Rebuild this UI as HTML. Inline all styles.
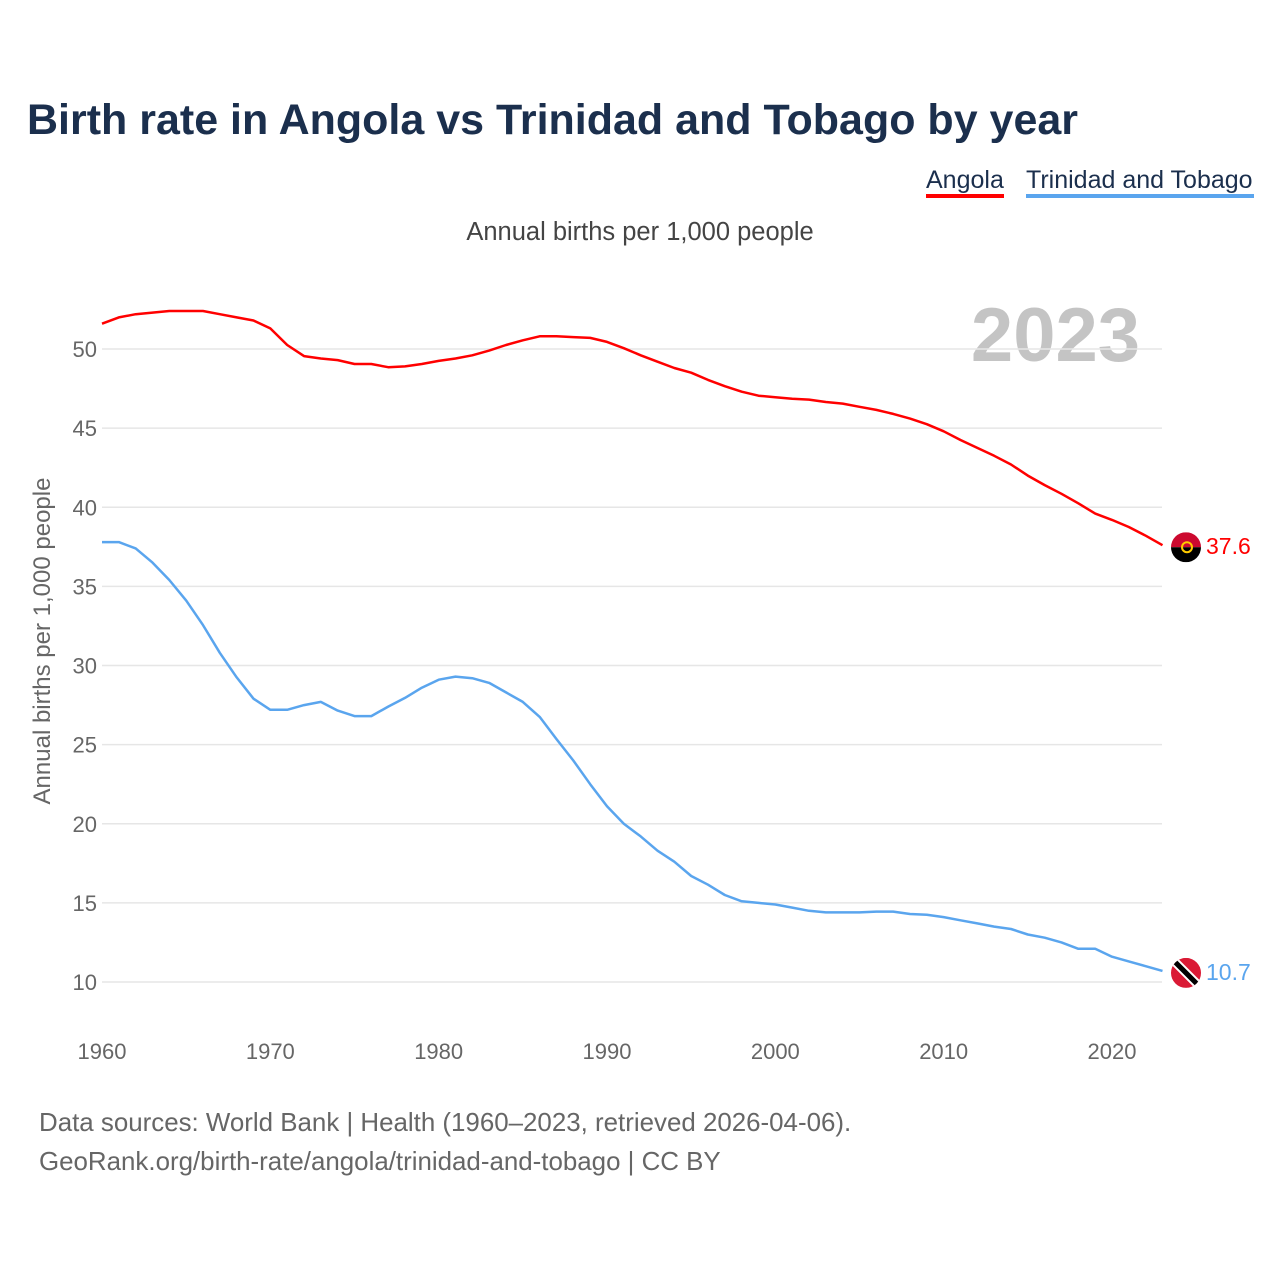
<!DOCTYPE html>
<html><head><meta charset="utf-8"><style>
body{margin:0;background:#fff;font-family:"Liberation Sans",sans-serif;}
#wrap{position:relative;width:1280px;height:1280px;overflow:hidden;}
</style></head><body>
<div id="wrap">
<svg id="chart" width="1280" height="1280"></svg>
</div>
<script>
const years=[];for(let y=1960;y<=2023;y++)years.push(y);
const angola=[51.6,52.0,52.2,52.3,52.4,52.4,52.4,52.2,52.0,51.8,51.3,50.25,49.55,49.4,49.3,49.05,49.05,48.85,48.9,49.05,49.25,49.4,49.6,49.9,50.25,50.55,50.8,50.8,50.75,50.7,50.45,50.05,49.6,49.2,48.8,48.5,48.05,47.65,47.3,47.05,46.95,46.85,46.8,46.65,46.55,46.35,46.15,45.9,45.6,45.25,44.8,44.25,43.75,43.25,42.7,42.0,41.4,40.85,40.25,39.6,39.2,38.75,38.2,37.6];
const trinidad=[37.8,37.8,37.4,36.5,35.4,34.1,32.55,30.8,29.25,27.9,27.2,27.2,27.5,27.7,27.15,26.8,26.8,27.4,27.95,28.6,29.1,29.3,29.2,28.9,28.3,27.7,26.75,25.35,24.0,22.5,21.1,20.0,19.2,18.3,17.6,16.7,16.15,15.5,15.1,15.0,14.9,14.7,14.5,14.4,14.4,14.4,14.45,14.45,14.3,14.25,14.1,13.9,13.7,13.5,13.35,13.0,12.8,12.5,12.1,12.1,11.6,11.3,11.0,10.7];
const yTicks=[10,15,20,25,30,35,40,45,50];
const xTicks=[1960,1970,1980,1990,2000,2010,2020];
const NS='http://www.w3.org/2000/svg';
const svg=document.getElementById('chart');
const xs=y=>102+(y-1960)*(1010/60);
const ys=v=>982-(v-10)*(633/40);
function el(t,a,p){const e=document.createElementNS(NS,t);for(const k in a)e.setAttribute(k,a[k]);(p||svg).appendChild(e);return e;}
function txt(s,a,p){const e=el('text',a,p);e.textContent=s;return e;}
let e;
e=txt('Birth rate in Angola vs Trinidad and Tobago by year',{x:27,y:134,'font-size':43,'font-weight':'bold',fill:'#1b2f4d',textLength:1051,lengthAdjust:'spacingAndGlyphs'});

e=txt('Angola',{x:926,y:188,'font-size':25,fill:'#1b2f4d'});

el('rect',{x:926,y:194,width:78,height:4,fill:'#ff0000'});
e=txt('Trinidad and Tobago',{x:1026,y:188,'font-size':25,fill:'#1b2f4d'});

el('rect',{x:1026,y:194,width:228,height:4,fill:'#5aa5ee'});
e=txt('Annual births per 1,000 people',{x:640,y:240,'font-size':25.5,fill:'#444','text-anchor':'middle'});

e=txt('2023',{x:1140,y:361,'font-size':76,'font-weight':'bold',fill:'#c4c4c4','text-anchor':'end'});

yTicks.forEach(v=>{
 const g=el('line',{x1:102,x2:1162,y1:ys(v),y2:ys(v),stroke:'#e6e6e6','stroke-width':1.5});
 
 const t=txt(String(v),{x:97,y:ys(v)+8,'font-size':22,fill:'#666','text-anchor':'end'});
 
});
xTicks.forEach(v=>{
 const t=txt(String(v),{x:xs(v),y:1059,'font-size':22,fill:'#666','text-anchor':'middle'});
 
});
e=txt('Annual births per 1,000 people',{x:0,y:0,'font-size':24,fill:'#666','text-anchor':'middle',transform:'translate(50,641) rotate(-90)'});

function line(data,color,name){
 const d=data.map((v,i)=>(i?'L':'M')+xs(years[i]).toFixed(1)+' '+ys(v).toFixed(1)).join(' ');
 const p=el('path',{d:d,fill:'none',stroke:color,'stroke-width':2.5,'stroke-linejoin':'round'});
 
}
line(angola,'#ff0000','angola-line');
line(trinidad,'#5aa5ee','trinidad-line');
const lastA=angola[angola.length-1],lastT=trinidad[trinidad.length-1];
let fa=el('g',{});
el('clipPath',{id:'ca'},fa);el('circle',{cx:1186,cy:ys(lastA)+2,r:15},document.getElementById('ca'));
el('rect',{x:1171,y:ys(lastA)-13,width:30,height:15,fill:'#cc092f','clip-path':'url(#ca)'},fa);
el('rect',{x:1171,y:ys(lastA)+2,width:30,height:15,fill:'#000','clip-path':'url(#ca)'},fa);
el('circle',{cx:1187,cy:ys(lastA)+2,r:5,fill:'none',stroke:'#ffcb00','stroke-width':2},fa);
e=txt(String(lastA),{x:1206,y:ys(lastA)+9,'font-size':23,fill:'#ff0000'});

let ft=el('g',{});
el('clipPath',{id:'ct'},ft);el('circle',{cx:1186,cy:ys(lastT)+2,r:15},document.getElementById('ct'));
el('rect',{x:1171,y:ys(lastT)-13,width:30,height:30,fill:'#da1a35','clip-path':'url(#ct)'},ft);
el('line',{x1:1174,y1:ys(lastT)-10,x2:1198,y2:ys(lastT)+14,stroke:'#fff','stroke-width':9,'clip-path':'url(#ct)'},ft);
el('line',{x1:1174,y1:ys(lastT)-10,x2:1198,y2:ys(lastT)+14,stroke:'#000','stroke-width':5,'clip-path':'url(#ct)'},ft);
e=txt(String(lastT),{x:1206,y:ys(lastT)+9,'font-size':23,fill:'#5aa5ee'});

e=txt('Data sources: World Bank | Health (1960–2023, retrieved 2026-04-06).',{x:39,y:1131,'font-size':25.9,fill:'#666'});

e=txt('GeoRank.org/birth-rate/angola/trinidad-and-tobago | CC BY',{x:39,y:1170,'font-size':25.9,fill:'#666'});

</script>
</body></html>
